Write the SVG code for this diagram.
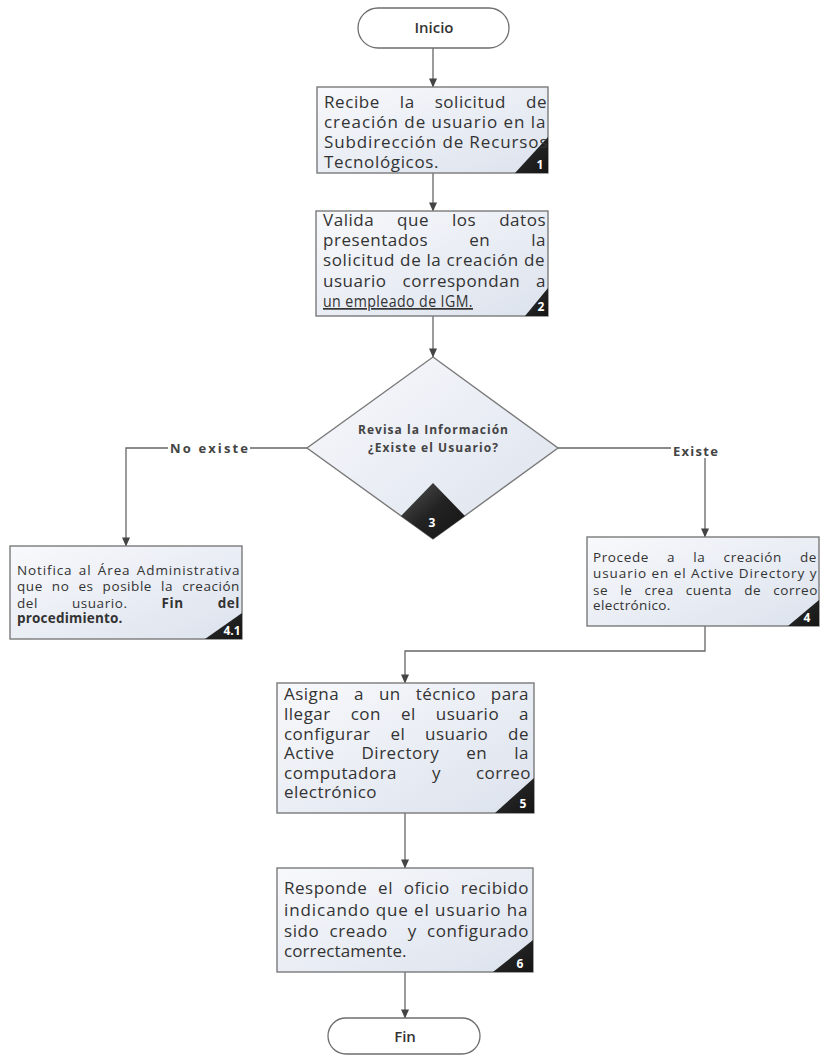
<svg xmlns="http://www.w3.org/2000/svg" width="820" height="1055" viewBox="0 0 820 1055">
<defs>
<linearGradient id="boxfill" x1="0" y1="0" x2="1" y2="1">
<stop offset="0" stop-color="#f8f9fc"/>
<stop offset="1" stop-color="#dce2ed"/>
</linearGradient>
<linearGradient id="corner" x1="0" y1="0" x2="1" y2="1">
<stop offset="0" stop-color="#555"/>
<stop offset="0.5" stop-color="#222"/>
<stop offset="1" stop-color="#151515"/>
</linearGradient>
<marker id="arr" viewBox="0 0 10 10" refX="9.5" refY="5" markerWidth="9" markerHeight="9" markerUnits="userSpaceOnUse" orient="auto">
<path d="M0,0.5 L10,5 L0,9.5 Z" fill="#444"/>
</marker>
</defs>
<style>
.box{fill:url(#boxfill);stroke:#7a7a7a;stroke-width:1.4}
.term{fill:#fff;stroke:#6e6e6e;stroke-width:1.3}
.tri{fill:url(#corner)}
.conn{fill:none;stroke:#666;stroke-width:1.3}
.t{font-family:"Open Sans","Liberation Sans",sans-serif;fill:#333}
.big{font-size:17px;letter-spacing:0.5px}
.sm{font-size:13.5px;letter-spacing:0.6px}
.b{font-weight:bold}
.num{font-family:"Open Sans","Liberation Sans",sans-serif;font-size:12px;font-weight:bold;fill:#fff;text-anchor:middle}
.lbl{font-family:"Open Sans","Liberation Sans",sans-serif;font-size:13px;font-weight:bold;fill:#444}
.ttl{font-family:"Open Sans","Liberation Sans",sans-serif;font-size:15px;font-weight:600;fill:#333;text-anchor:middle}
.dt{font-family:"Open Sans","Liberation Sans",sans-serif;font-size:12px;font-weight:bold;fill:#444;text-anchor:middle}
</style>
<rect width="820" height="1055" fill="#fff"/>

<g id="connectors">
<path class="conn" d="M433,48 V87" marker-end="url(#arr)"/>
<path class="conn" d="M433,173 V211" marker-end="url(#arr)"/>
<path class="conn" d="M433,316 V357" marker-end="url(#arr)"/>
<path class="conn" d="M307,448 H126 V546" marker-end="url(#arr)"/>
<path class="conn" d="M558,448 H705 V537" marker-end="url(#arr)"/>
<path class="conn" d="M705,626 V651 H405 V683" marker-end="url(#arr)"/>
<path class="conn" d="M405,813 V868" marker-end="url(#arr)"/>
<path class="conn" d="M405,972 V1018" marker-end="url(#arr)"/>
<rect x="168" y="440" width="82" height="17" fill="#fff"/>
<text class="lbl" x="170" y="453" textLength="78" lengthAdjust="spacing">No existe</text>
<rect x="671" y="440" width="50" height="18" fill="#fff"/>
<text class="lbl" x="673" y="456" textLength="45" lengthAdjust="spacing">Existe</text>
</g>

<g id="inicio">
<rect class="term" x="358" y="8" width="151" height="40" rx="20" ry="20"/>
<text class="ttl" x="434" y="33">Inicio</text>
</g>

<g id="paso1">
<rect class="box" x="317" y="87" width="231" height="86"/>
<polygon class="tri" points="515,173 548,173 548,137"/>
<text class="t big" x="324" y="108" word-spacing="15" textLength="223" lengthAdjust="spacing">Recibe la solicitud de</text>
<text class="t big" x="324" y="128" textLength="222" lengthAdjust="spacing">creación de usuario en la</text>
<text class="t big" x="324" y="148" textLength="224" lengthAdjust="spacing">Subdirección de Recursos</text>
<text class="t big" x="324" y="168" textLength="115" lengthAdjust="spacing">Tecnológicos.</text>
<text class="num" x="540" y="169">1</text>
</g>

<g id="paso2">
<rect class="box" x="316" y="211" width="232" height="105"/>
<polygon class="tri" points="525,316 548,316 548,288"/>
<text class="t big" x="323" y="226" word-spacing="18" textLength="223" lengthAdjust="spacing">Valida que los datos</text>
<text class="t big" x="323" y="246" word-spacing="36" textLength="223" lengthAdjust="spacing">presentados en la</text>
<text class="t big" x="323" y="266" textLength="222" lengthAdjust="spacing">solicitud de la creación de</text>
<text class="t big" x="323" y="287" word-spacing="11" textLength="223" lengthAdjust="spacing">usuario correspondan a</text>
<text class="t big" x="323" y="307" textLength="150" lengthAdjust="spacingAndGlyphs" text-decoration="underline">un empleado de IGM.</text>
<text class="num" x="541" y="311">2</text>
</g>

<g id="decision3">
<polygon class="box" points="433,357 558,448 433,539 307,448"/>
<polygon class="tri" points="433,483 465,516 433,539 401,516"/>
<text class="dt" x="433" y="434" textLength="150" lengthAdjust="spacing">Revisa la Información</text>
<text class="dt" x="433" y="452" textLength="130" lengthAdjust="spacing">¿Existe el Usuario?</text>
<text class="num" x="432" y="527">3</text>
</g>

<g id="paso4_1">
<rect class="box" x="10" y="546" width="232" height="93"/>
<polygon class="tri" points="205,639 242,639 242,613"/>
<text class="t sm" x="17" y="575" word-spacing="2" textLength="223" lengthAdjust="spacing">Notifica al Área Administrativa</text>
<text class="t sm" x="17" y="591" word-spacing="5" textLength="223" lengthAdjust="spacing">que no es posible la creación</text>
<text class="t sm" x="17" y="608" word-spacing="30" textLength="223" lengthAdjust="spacing">del usuario. <tspan class="b">Fin del</tspan></text>
<text class="t sm b" x="17" y="623" textLength="106" lengthAdjust="spacing">procedimiento.</text>
<text class="num" x="232" y="635">4.1</text>
</g>

<g id="paso4">
<rect class="box" x="587" y="537" width="232" height="89"/>
<polygon class="tri" points="788,626 819,626 819,600"/>
<text class="t sm" x="593" y="562" word-spacing="14" textLength="224" lengthAdjust="spacing">Procede a la creación de</text>
<text class="t sm" x="593" y="578" textLength="224" lengthAdjust="spacing">usuario en el Active Directory y</text>
<text class="t sm" x="593" y="595" word-spacing="8" textLength="225" lengthAdjust="spacing">se le crea cuenta de correo</text>
<text class="t sm" x="593" y="610" textLength="78" lengthAdjust="spacing">electrónico.</text>
<text class="num" x="807" y="622">4</text>
</g>

<g id="paso5">
<rect class="box" x="277" y="683" width="257" height="130"/>
<polygon class="tri" points="495,813 534,813 534,778"/>
<text class="t big" x="284" y="700" word-spacing="10" textLength="245" lengthAdjust="spacing">Asigna a un técnico para</text>
<text class="t big" x="284" y="720" word-spacing="15" textLength="245" lengthAdjust="spacing">llegar con el usuario a</text>
<text class="t big" x="284" y="740" word-spacing="15" textLength="245" lengthAdjust="spacing">configurar el usuario de</text>
<text class="t big" x="284" y="759" word-spacing="22" textLength="245" lengthAdjust="spacing">Active Directory en la</text>
<text class="t big" x="284" y="779" word-spacing="30" textLength="247" lengthAdjust="spacing">computadora y correo</text>
<text class="t big" x="284" y="798" textLength="93" lengthAdjust="spacing">electrónico</text>
<text class="num" x="523" y="808">5</text>
</g>

<g id="paso6">
<rect class="box" x="277" y="868" width="256" height="104"/>
<polygon class="tri" points="493,972 533,972 533,940"/>
<text class="t big" x="284" y="894" word-spacing="6" textLength="245" lengthAdjust="spacing">Responde el oficio recibido</text>
<text class="t big" x="284" y="916" textLength="244" lengthAdjust="spacing">indicando que el usuario ha</text>
<text class="t big" x="284" y="937" word-spacing="5" textLength="245" lengthAdjust="spacing" xml:space="preserve">sido creado  y configurado</text>
<text class="t big" x="284" y="957" textLength="123" lengthAdjust="spacing">correctamente.</text>
<text class="num" x="520" y="968">6</text>
</g>

<g id="fin">
<rect class="term" x="328" y="1018" width="152" height="36" rx="18" ry="18"/>
<text class="ttl" x="405" y="1042">Fin</text>
</g>
</svg>
